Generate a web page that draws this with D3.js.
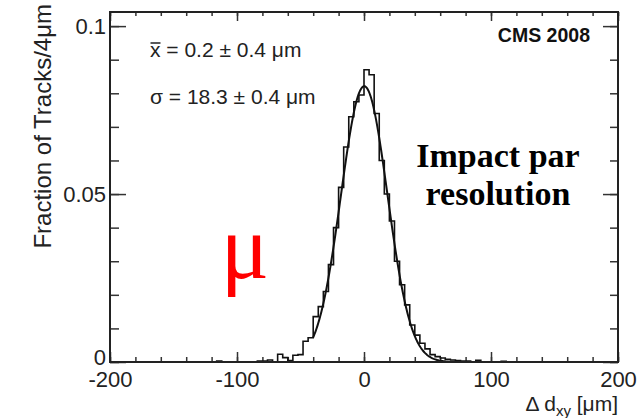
<!DOCTYPE html>
<html>
<head>
<meta charset="utf-8">
<script src="https://cdn.jsdelivr.net/npm/d3@7"></script>
<style>
  body { margin: 0; background: #fff; }
</style>
</head>
<body>
<svg width="641" height="418" font-family='"Liberation Sans", Arial, sans-serif'></svg>
<script>
// histogram: lower edge of each 4 um bin and its fraction of tracks
const binWidth = 4
const firstBin = -116
const fractions = [
  0.0003, 0, 0, 0, 0, 0, 0, 0,
  0.0003, 0.0003, 0.0006, 0, 0.0023, 0.0013, 0.0004, 0.0020, 0.0022,
  0.0062, 0.0072, 0.0135, 0.0165, 0.0210, 0.0290, 0.0400, 0.0520,
  0.0640, 0.0730, 0.0775, 0.0795,
  0.0870, 0.0855, 0.0740, 0.0600, 0.0500, 0.0420, 0.0300, 0.0230,
  0.0170, 0.0110, 0.0080, 0.0056, 0.0039, 0.0022, 0.0016, 0.0012,
  0.0008, 0.0006, 0.0004, 0.0003, 0.0003, 0, 0.0005, 0, 0, 0, 0, 0.0002
]
// gaussian fit parameters
const fitMean = 0.2
const fitSigma = 18.3
const fitPeak = 0.0821
const fitRange = [-40, 80]

const xMajorTicks = [-200, -100, 0, 100, 200]
const yMajorTicks = [0, 0.05, 0.1]
const yTickLabels = ['0', '0.05', '0.1']

let svg = d3.select('svg')
let pLeft = 110, pRight = 618, pTop = 12, pBottom = 362
let serif = '"Liberation Serif", "Times New Roman", serif'

let x = d3.scaleLinear().domain([-200, 200]).range([pLeft, pRight])
let y = d3.scaleLinear().domain([0, 0.1042]).range([pBottom, pTop])

let xMinor = d3.range(-200, 201, 20)
let yMinor = d3.range(0, 0.1001, 0.01)

function clean (g) {
  g.select('.domain').remove()
  g.attr('font-family', null)
  g.selectAll('line').attr('stroke', '#333').attr('stroke-width', 1.5)
}

// bottom axis
svg.append('g').attr('transform', 'translate(0,' + pBottom + ')')
  .call(d3.axisBottom(x).tickValues(xMinor).tickSize(-5).tickFormat(''))
  .call(clean)
svg.append('g').attr('transform', 'translate(0,' + pBottom + ')')
  .call(d3.axisBottom(x).tickValues(xMajorTicks).tickSize(-10).tickPadding(9).tickFormat(d => String(d)))
  .call(clean)
  .selectAll('text')
  .attr('font-size', 22).attr('fill', '#222')

// top axis
svg.append('g').attr('transform', 'translate(0,' + pTop + ')')
  .call(d3.axisTop(x).tickValues(xMinor).tickSize(-4).tickFormat(''))
  .call(clean)
svg.append('g').attr('transform', 'translate(0,' + pTop + ')')
  .call(d3.axisTop(x).tickValues(xMajorTicks).tickSize(-9).tickFormat(''))
  .call(clean)

// left axis
svg.append('g').attr('transform', 'translate(' + pLeft + ',0)')
  .call(d3.axisLeft(y).tickValues(yMinor).tickSize(-9).tickFormat(''))
  .call(clean)
svg.append('g').attr('transform', 'translate(' + pLeft + ',0)')
  .call(d3.axisLeft(y).tickValues(yMajorTicks).tickSize(-16).tickPadding(4)
    .tickFormat((d, i) => yTickLabels[i]))
  .call(clean)
  .selectAll('text')
  .attr('font-size', 22).attr('fill', '#222')
  .attr('dy', (d, i) => i === 0 ? '0.1em' : '0.32em')

// right axis
svg.append('g').attr('transform', 'translate(' + pRight + ',0)')
  .call(d3.axisRight(y).tickValues(yMinor).tickSize(-8).tickFormat(''))
  .call(clean)
svg.append('g').attr('transform', 'translate(' + pRight + ',0)')
  .call(d3.axisRight(y).tickValues(yMajorTicks).tickSize(-15).tickFormat(''))
  .call(clean)

// histogram outline
let pts = [[firstBin, 0]]
fractions.forEach(function (v, i) {
  pts.push([firstBin + i * binWidth, v])
})
pts.push([firstBin + fractions.length * binWidth, 0])

let step = d3.line()
  .x(d => x(d[0]))
  .y(d => y(d[1]))
  .curve(d3.curveStepAfter)

svg.append('path')
  .attr('d', step(pts))
  .attr('fill', 'none')
  .attr('stroke', '#111')
  .attr('stroke-width', 1.6)

// gaussian fit
let fitPts = d3.range(fitRange[0], fitRange[1] + 0.01, 0.5).map(function (v) {
  return [v, fitPeak * Math.exp(-Math.pow(v - fitMean, 2) / (2 * fitSigma * fitSigma))]
})
svg.append('path')
  .attr('d', d3.line().x(d => x(d[0])).y(d => y(d[1]))(fitPts))
  .attr('fill', 'none')
  .attr('stroke', '#111')
  .attr('stroke-width', 2)

// frame
svg.append('rect')
  .attr('x', pLeft).attr('y', pTop)
  .attr('width', pRight - pLeft).attr('height', pBottom - pTop)
  .attr('fill', 'none')
  .attr('stroke', '#222')
  .attr('stroke-width', 2)

// axis titles
svg.append('text')
  .attr('transform', 'translate(51,4) rotate(-90)')
  .attr('text-anchor', 'end')
  .attr('font-size', 24)
  .attr('fill', '#222')
  .text('Fraction of Tracks/4μm')

let xt = svg.append('text')
  .attr('x', pRight).attr('y', 411)
  .attr('text-anchor', 'end')
  .attr('font-size', 21)
  .attr('fill', '#222')
xt.append('tspan').text('Δ d')
xt.append('tspan').attr('font-size', 15).attr('dy', 5).text('xy')
xt.append('tspan').attr('dy', -5).text(' [μm]')

// fit results
let meanText = svg.append('text')
  .attr('x', 150).attr('y', 57)
  .attr('font-size', 21)
  .attr('fill', '#222')
meanText.append('tspan').attr('class', 'xbar').text('x')
meanText.append('tspan').text(' = ' + fitMean + ' ± 0.4 μm')
let xb = meanText.select('.xbar').node().getBBox()
svg.append('line')
  .attr('x1', xb.x + 0.5).attr('x2', xb.x + xb.width - 0.5)
  .attr('y1', 43).attr('y2', 43)
  .attr('stroke', '#222').attr('stroke-width', 1.5)

svg.append('text')
  .attr('x', 150).attr('y', 104)
  .attr('font-size', 21)
  .attr('fill', '#222')
  .text('σ = ' + fitSigma + ' ± 0.4 μm')

svg.append('text')
  .attr('x', 590).attr('y', 42)
  .attr('text-anchor', 'end')
  .attr('font-size', 19.5)
  .attr('font-weight', 'bold')
  .attr('fill', '#111')
  .text('CMS 2008')

let title = svg.append('text')
  .attr('text-anchor', 'middle')
  .attr('font-family', serif)
  .attr('font-weight', 'bold')
  .attr('font-size', 34)
  .attr('fill', '#000')
title.append('tspan').attr('x', 498).attr('y', 167).text('Impact par')
title.append('tspan').attr('x', 498).attr('y', 205).text('resolution')

svg.append('text')
  .attr('x', 245).attr('y', 278)
  .attr('text-anchor', 'middle')
  .attr('font-family', serif)
  .attr('font-size', 90)
  .attr('fill', '#f00')
  .text('μ')
</script>
</body>
</html>
